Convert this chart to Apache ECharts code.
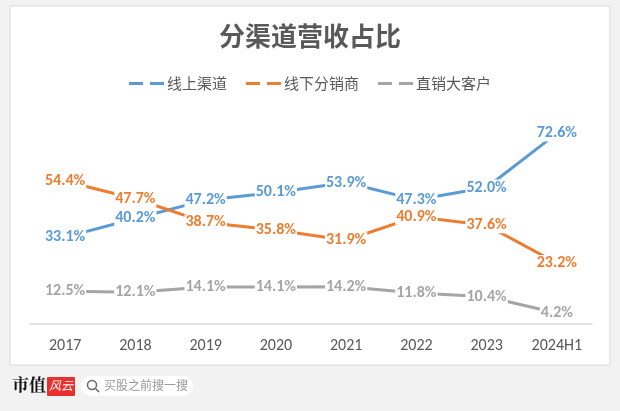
<!DOCTYPE html>
<html>
<head>
<meta charset="utf-8">
<script src="https://cdn.jsdelivr.net/npm/echarts@6/dist/echarts.min.js"></script>
<style>
  html, body { margin: 0; padding: 0; background: #ffffff; }
  #main { width: 620px; height: 411px; }
</style>
</head>
<body>
<div id="main"></div>
<script>
// 数据
var years = ['2017', '2018', '2019', '2020', '2021', '2022', '2023', '2024H1'];
var online = [33.1, 40.2, 47.2, 50.1, 53.9, 47.3, 52.0, 72.6];
var offline = [54.4, 47.7, 38.7, 35.8, 31.9, 40.9, 37.6, 23.2];
var direct = [12.5, 12.1, 14.1, 14.1, 14.2, 11.8, 10.4, 4.2];
var seriesNames = ['线上渠道', '线下分销商', '直销大客户'];
var colors = ['#5b9bd5', '#ed7d31', '#a5a5a5'];

var cjk = '"Noto Sans CJK SC", "Microsoft YaHei", sans-serif';
var latin = 'Carlito, Calibri, "Liberation Sans", sans-serif';

function makeSeries(name, data, color) {
  return {
    name: name,
    type: 'line',
    data: data,
    symbol: 'circle',
    symbolSize: 0,
    lineStyle: { color: color, width: 3 },
    itemStyle: { color: color },
    label: {
      show: true,
      position: 'inside',
      formatter: function (p) { return p.value.toFixed(1) + '%'; },
      color: color,
      fontSize: 16,
      fontWeight: 'bold',
      fontFamily: latin,
      backgroundColor: '#ffffff',
      padding: [0, 1]
    }
  };
}

var myChart = echarts.init(document.getElementById('main'));
var option = {
  backgroundColor: '#f2f2f2',
  animation: false,
  color: colors,
  title: {
    text: '分渠道营收占比',
    left: 'center',
    top: 18,
    textStyle: { color: '#595959', fontSize: 26, fontWeight: 'bold', fontFamily: cjk }
  },
  legend: {
    top: 71,
    left: 'center',
    itemWidth: 35,
    itemHeight: 3,
    itemGap: 19,
    icon: 'path://M0,0 L14,0 L14,3 L0,3 Z M21,0 L35,0 L35,3 L21,3 Z',
    textStyle: { color: '#595959', fontSize: 15, fontFamily: cjk, padding: [0, 0, 0, -2] },
    data: seriesNames
  },
  grid: { left: 30, right: 28, top: 114, bottom: 87 },
  xAxis: {
    type: 'category',
    data: years,
    axisLine: { lineStyle: { color: '#d9d9d9', width: 1.5 } },
    axisTick: { show: false },
    axisLabel: { color: '#595959', fontSize: 16, margin: 14, fontFamily: latin }
  },
  yAxis: {
    type: 'value',
    min: 0,
    max: 80,
    show: false,
    splitLine: { show: false }
  },
  graphic: [
    {
      type: 'rect', z: -10, silent: true,
      shape: { x: 10, y: 6, width: 600, height: 359 },
      style: { fill: '#ffffff', stroke: '#d9d9d9', lineWidth: 1 }
    },
    {
      type: 'text', left: 12, top: 376,
      style: { text: '市值', fill: '#111111', fontSize: 17, fontWeight: 'bold', fontFamily: '"Noto Serif CJK SC", "Noto Sans CJK SC", serif' }
    },
    {
      type: 'rect', shape: { x: 47, y: 377, width: 28, height: 19, r: 1 },
      style: { fill: '#e8312f' }
    },
    {
      type: 'text', left: 49, top: 379,
      style: { text: '风云', fill: '#ffffff', fontSize: 12, fontStyle: 'italic', fontFamily: cjk }
    },
    {
      type: 'rect', shape: { x: 81, y: 376, width: 112, height: 20, r: 10 },
      style: { fill: '#ffffff' }
    },
    {
      type: 'circle', shape: { cx: 92, cy: 385, r: 4.5 },
      style: { fill: 'none', stroke: '#666666', lineWidth: 1.5 }
    },
    {
      type: 'line', shape: { x1: 95.5, y1: 388.5, x2: 99, y2: 392 },
      style: { stroke: '#666666', lineWidth: 1.5 }
    },
    {
      type: 'text', left: 104, top: 379,
      style: { text: '买股之前搜一搜', fill: '#9a9a9a', fontSize: 12, fontFamily: cjk }
    }
  ],
  series: [
    makeSeries(seriesNames[0], online, colors[0]),
    makeSeries(seriesNames[1], offline, colors[1]),
    makeSeries(seriesNames[2], direct, colors[2])
  ]
};
myChart.setOption(option);
</script>
</body>
</html>
